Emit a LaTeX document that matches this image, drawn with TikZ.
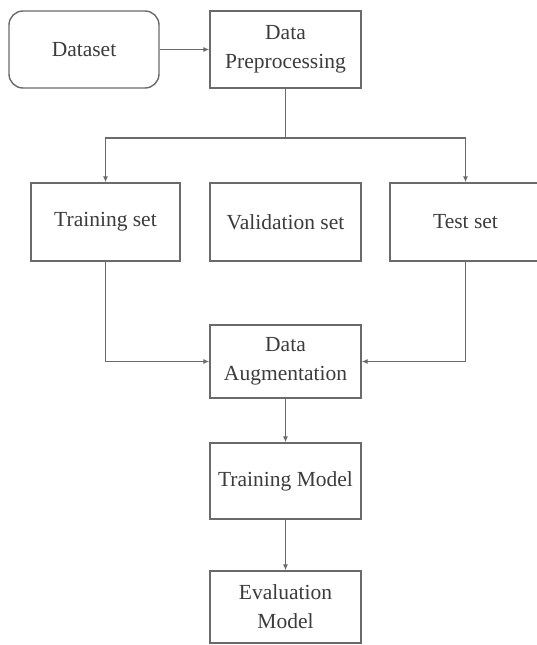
\documentclass[tikz,border=0pt]{standalone}
\usepackage{fontspec}
\setmainfont{Liberation Serif}
\newfontfamily\tms{Liberation Serif}
\usetikzlibrary{arrows.meta}
\definecolor{edge}{HTML}{6A6A6A}
\definecolor{txt}{HTML}{3C3C3C}
\tikzset{
  box/.style={draw=edge, line width=1.4pt, fill=white, text=txt, align=center,
    inner sep=0pt, font=\tms\fontsize{21.5}{29}\selectfont},
  rbox/.style={box, rounded corners=14pt},
  arr/.style={draw=edge, line width=1.4pt, -{Latex[length=6pt,width=5pt]}},
  ln/.style={draw=edge, line width=1.4pt}
}
\begin{document}
\begin{tikzpicture}[x=1pt,y=-1pt]
\useasboundingbox (0,0) rectangle (536,645);
\fill[white] (0,0) rectangle (536,645);
\node[rbox, minimum width=150pt, minimum height=77pt] (ds) at (84,49.5) {Dataset};
\node[box, minimum width=151pt, minimum height=77pt] (dp) at (285.5,49.5) {Data\\Preprocessing};
\node[box, minimum width=149pt, minimum height=78pt] (tr) at (105.5,222) {Training set};
\node[box, minimum width=151pt, minimum height=78pt] (va) at (285.5,222) {Validation set};
\node[box, minimum width=151pt, minimum height=78pt] (te) at (465.5,222) {Test set};
\node[box, minimum width=151pt, minimum height=73pt] (da) at (285.5,361.5) {Data\\Augmentation};
\node[box, minimum width=151pt, minimum height=76pt] (tm) at (285.5,481) {Training Model};
\node[box, minimum width=151pt, minimum height=72pt] (em) at (285.5,607) {Evaluation\\Model};
\coordinate (br) at (285.5,138);
\draw[arr] (ds.east) -- (dp.west);
\draw[ln] (dp.south) -- (br);
\draw[arr] (br) -| (tr.north);
\draw[arr] (br) -| (te.north);
\draw[arr] (tr.south) |- (da.west);
\draw[arr] (te.south) |- (da.east);
\draw[arr] (da.south) -- (tm.north);
\draw[arr] (tm.south) -- (em.north);
\end{tikzpicture}
\end{document}
